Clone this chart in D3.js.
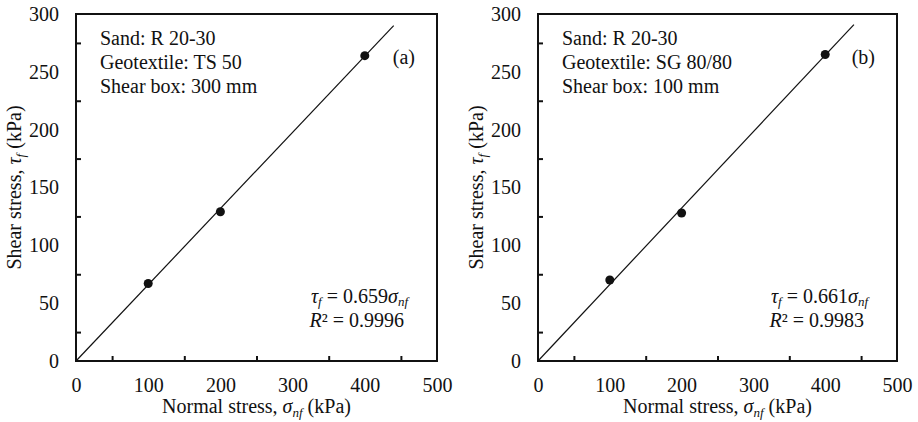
<!DOCTYPE html>
<html><head><meta charset="utf-8">
<script src="https://cdn.jsdelivr.net/npm/d3@7"></script>
</head><body style="margin:0;background:#fff"><svg id="c" width="918" height="422"></svg>
<script>
const xTicks = [0,100,200,300,400,500];
const yTicks = [0,50,100,150,200,250,300];
const normalA = [100,200,400];
const shearA = [67,129,264];
const normalB = [100,200,400];
const shearB = [70,128,265];
const slopes = [0.659,0.661];
const r2 = ["0.9996","0.9983"];
const panelLabels = ["(a)","(b)"];
const infoA = ["Sand: R 20-30","Geotextile: TS 50","Shear box: 300 mm"];
const infoB = ["Sand: R 20-30","Geotextile: SG 80/80","Shear box: 100 mm"];
const fitMax = 440;
const FONT = "'Liberation Serif'";

const svg = d3.select("#c");
const panels = [
  {left:76,right:437,x:normalA,y:shearA,info:infoA},
  {left:538,right:897,x:normalB,y:shearB,info:infoB}
];
const plotTop=14, plotBottom=361;
function txt(sel){ return sel.style("font-family",FONT).attr("fill","#111"); }
panels.forEach((p,i)=>{
  const x = d3.scaleLinear().domain([0,500]).range([p.left,p.right]);
  const y = d3.scaleLinear().domain([0,300]).range([plotBottom,plotTop]);
  const g = svg.append("g");
  g.append("g").attr("transform",`translate(0,${plotBottom})`)
    .call(d3.axisTop(x).tickValues([50,150,250,350,450]).tickSize(5).tickFormat(""))
    .call(a=>a.select(".domain").remove())
    .selectAll("line").attr("stroke","#111").attr("stroke-width",2);
  g.append("g").attr("transform",`translate(${p.left},0)`)
    .call(d3.axisRight(y).tickValues([25,75,125,175,225,275]).tickSize(5).tickFormat(""))
    .call(a=>a.select(".domain").remove())
    .selectAll("line").attr("stroke","#111").attr("stroke-width",2);
  g.append("g").attr("transform",`translate(0,${plotBottom})`)
    .call(d3.axisBottom(x).tickValues(xTicks).tickSize(0).tickPadding(17).tickFormat(d3.format("d")))
    .attr("font-family",FONT).attr("font-size",20)
    .call(a=>a.select(".domain").remove())
    .selectAll("text").call(txt).style("font-size","20px");
  g.append("g").attr("transform",`translate(${p.left},0)`)
    .call(d3.axisLeft(y).tickValues(yTicks).tickSize(0).tickPadding(17).tickFormat(d3.format("d")))
    .attr("font-family",FONT).attr("font-size",20)
    .call(a=>a.select(".domain").remove())
    .selectAll("text").call(txt).style("font-size","20px");
  g.append("rect").attr("x",p.left).attr("y",plotTop).attr("width",p.right-p.left).attr("height",plotBottom-plotTop)
    .attr("fill","none").attr("stroke","#111").attr("stroke-width",2);
  g.append("line").attr("x1",x(0)).attr("y1",y(0)).attr("x2",x(fitMax)).attr("y2",y(slopes[i]*fitMax))
    .attr("stroke","#111").attr("stroke-width",1.2);
  g.selectAll("circle.pt").data(d3.range(p.x.length)).enter().append("circle")
    .attr("cx",k=>x(p.x[k])).attr("cy",k=>y(p.y[k])).attr("r",4.5).attr("fill","#111");
  p.info.forEach((t,k)=>{
    g.append("text").attr("x",p.left+24).attr("y",45+k*24).call(txt).style("font-size","20px").text(t);
  });
  g.append("text").attr("x",p.right-22).attr("y",64).attr("text-anchor","end").call(txt).style("font-size","20px").text(panelLabels[i]);
  const eq = g.append("text").attr("x",p.right-29).attr("y",303).attr("text-anchor","end").call(txt).style("font-size","20px");
  eq.append("tspan").style("font-style","italic").text("τ");
  eq.append("tspan").style("font-style","italic").style("font-size","13px").attr("dy",3).text("f");
  eq.append("tspan").attr("dy",-3).text(" = " + slopes[i].toFixed(3));
  eq.append("tspan").style("font-style","italic").text("σ");
  eq.append("tspan").style("font-style","italic").style("font-size","13px").attr("dy",3).text("nf");
  const r = g.append("text").attr("x",p.right-33).attr("y",327).attr("text-anchor","end").call(txt).style("font-size","20px");
  r.append("tspan").style("font-style","italic").text("R");
  r.append("tspan").text("² = " + r2[i]);
  const xt = g.append("text").attr("x",(p.left+p.right)/2).attr("y",413).attr("text-anchor","middle").call(txt).style("font-size","20px");
  xt.append("tspan").text("Normal stress, ");
  xt.append("tspan").style("font-style","italic").text("σ");
  xt.append("tspan").style("font-style","italic").style("font-size","13px").attr("dy",4).text("nf");
  xt.append("tspan").attr("dy",-4).text(" (kPa)");
  const yt = g.append("text").attr("transform",`translate(${p.left-55},${(plotTop+plotBottom)/2}) rotate(-90)`).attr("text-anchor","middle").call(txt).style("font-size","20px");
  yt.append("tspan").text("Shear stress, ");
  yt.append("tspan").style("font-style","italic").text("τ");
  yt.append("tspan").style("font-style","italic").style("font-size","13px").attr("dy",4).text("f");
  yt.append("tspan").attr("dy",-4).text(" (kPa)");
});
</script></body></html>
